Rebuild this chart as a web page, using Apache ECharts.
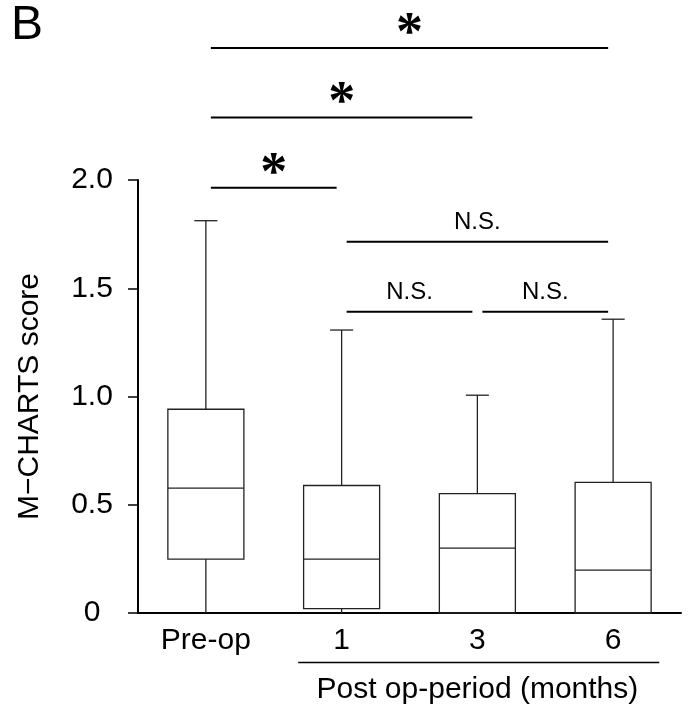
<!DOCTYPE html>
<html lang="en">
<head>
    <meta charset="UTF-8">
    <script type="text/javascript" src="https://cdn.jsdelivr.net/npm/echarts@6/dist/echarts.min.js"></script>
    <title>M-CHARTS score</title>
    <style>
        html, body { margin: 0; padding: 0; background: #fff; }
    </style>
</head>
<body>
<div id="main" style="width: 694px;height:717px;"></div>
<script type="text/javascript">
    // categories and box statistics
    var periods = ['Pre-op', '1', '3', '6'];
    var whiskerLow = [0, 0, 0, 0];
    var quartile1 = [0.249, 0.02, 0, 0];
    var medians = [0.577, 0.249, 0.30, 0.198];
    var quartile3 = [0.941, 0.589, 0.551, 0.603];
    var whiskerHigh = [1.812, 1.307, 1.006, 1.357];

    var yTicks = [0, 0.5, 1.0, 1.5, 2.0];

    // significance brackets: from / to category index, height in score units, label
    var bracketFrom = [0, 0, 0, 1, 1, 2];
    var bracketTo = [3, 2, 1, 3, 2, 3];
    var bracketLevel = [2.61, 2.289, 1.964, 1.715, 1.392, 1.392];
    var bracketLabel = ['*', '*', '*', 'N.S.', 'N.S.', 'N.S.'];

    // grouping under the axis
    var groupFrom = 1, groupTo = 3;
    var groupName = 'Post op-period (months)';

    var boxData = [];
    for (var i = 0; i < periods.length; i++) {
        boxData.push([i, whiskerLow[i], quartile1[i], medians[i], quartile3[i], whiskerHigh[i]]);
    }
    var bracketData = [];
    for (var j = 0; j < bracketFrom.length; j++) {
        bracketData.push([bracketFrom[j], bracketTo[j], bracketLevel[j]]);
    }

    function renderBox(params, api) {
        var x = api.value(0);
        var lo = api.coord([x, api.value(1)]);
        var q1 = api.coord([x, api.value(2)]);
        var md = api.coord([x, api.value(3)]);
        var q3 = api.coord([x, api.value(4)]);
        var hi = api.coord([x, api.value(5)]);
        var band = api.size([1, 0])[0];
        var half = band * 0.28;
        var cap = band * 0.085;
        var cx = q1[0];
        var st = {stroke: '#222', lineWidth: 1.3, fill: null};
        return {
            type: 'group',
            children: [
                {type: 'line', shape: {x1: cx, y1: q3[1], x2: cx, y2: hi[1]}, style: st},
                {type: 'line', shape: {x1: cx - cap, y1: hi[1], x2: cx + cap, y2: hi[1]}, style: st},
                {type: 'line', shape: {x1: cx, y1: q1[1], x2: cx, y2: lo[1]}, style: st},
                {type: 'rect', shape: {x: cx - half, y: q3[1], width: half * 2, height: q1[1] - q3[1]}, style: st},
                {type: 'line', shape: {x1: cx - half, y1: md[1], x2: cx + half, y2: md[1]}, style: st}
            ]
        };
    }

    function renderBracket(params, api) {
        var a = api.coord([api.value(0), api.value(2)]);
        var b = api.coord([api.value(1), api.value(2)]);
        var x1 = a[0] + 5, x2 = b[0] - 5, y = a[1];
        var lab = bracketLabel[params.dataIndex];
        var star = lab === '*';
        return {
            type: 'group',
            children: [
                {type: 'line', shape: {x1: x1, y1: y, x2: x2, y2: y},
                    style: {stroke: '#000', lineWidth: 2}},
                {type: 'text', x: (x1 + x2) / 2, y: star ? y - 13 : y - 19,
                    style: {
                        text: lab,
                        fill: '#000',
                        align: 'center',
                        verticalAlign: 'middle',
                        font: star ? 'bold 54px "Liberation Serif"' : '24px "Liberation Sans"'
                    }}
            ]
        };
    }

    function renderGroup(params, api) {
        var a = api.coord([groupFrom, 0]);
        var b = api.coord([groupTo, 0]);
        var band = api.size([1, 0])[0];
        var y = a[1];
        return {
            type: 'group',
            children: [
                {type: 'line', shape: {x1: a[0] - band * 0.32, y1: y + 49.5, x2: b[0] + band * 0.34, y2: y + 49.5},
                    style: {stroke: '#000', lineWidth: 1.5}},
                {type: 'text', x: (a[0] + b[0]) / 2, y: y + 77,
                    style: {text: groupName, fill: '#000', align: 'center', verticalAlign: 'middle',
                        font: '30px "Liberation Sans"'}}
            ]
        };
    }

    var myChart = echarts.init(document.getElementById('main'));

    var option = {
        animation: false,
        backgroundColor: '#fff',
        textStyle: {fontFamily: '"Liberation Sans", Arial, sans-serif', color: '#000'},
        graphic: [
            {type: 'text', left: 11, top: 2,
                style: {text: 'B', fill: '#000', font: '48px "Liberation Sans"'}}
        ],
        grid: {
            left: 138,
            right: 13,
            top: 180,
            bottom: 104
        },
        xAxis: {
            type: 'category',
            data: periods,
            axisLine: {lineStyle: {color: '#000', width: 2}},
            axisTick: {show: false},
            axisLabel: {color: '#000', fontSize: 30, margin: 13}
        },
        yAxis: {
            type: 'value',
            min: 0,
            max: 2,
            interval: 0.5,
            name: 'M\u2212CHARTS score',
            nameLocation: 'middle',
            nameGap: 93,
            nameTextStyle: {color: '#000', fontSize: 30},
            splitLine: {show: false},
            axisLine: {show: true, lineStyle: {color: '#000', width: 2}},
            axisTick: {show: true, length: 10, lineStyle: {color: '#000', width: 1.5}},
            axisLabel: {
                color: '#000', fontSize: 30, align: 'center', margin: 46,
                formatter: function (v) {
                    return yTicks.indexOf(v) >= 0 && v !== 0 ? v.toFixed(1) : String(v);
                }
            }
        },
        series: [
            {
                type: 'custom',
                renderItem: renderBox,
                encode: {x: 0, y: [1, 2, 3, 4, 5]},
                data: boxData,
                z: 3
            },
            {
                type: 'custom',
                renderItem: renderBracket,
                encode: {x: [0, 1], y: 2},
                clip: false,
                data: bracketData,
                z: 4
            },
            {
                type: 'custom',
                renderItem: renderGroup,
                clip: false,
                data: [[groupFrom]],
                z: 4
            }
        ]
    };
    myChart.setOption(option);
</script>
</body>
</html>
